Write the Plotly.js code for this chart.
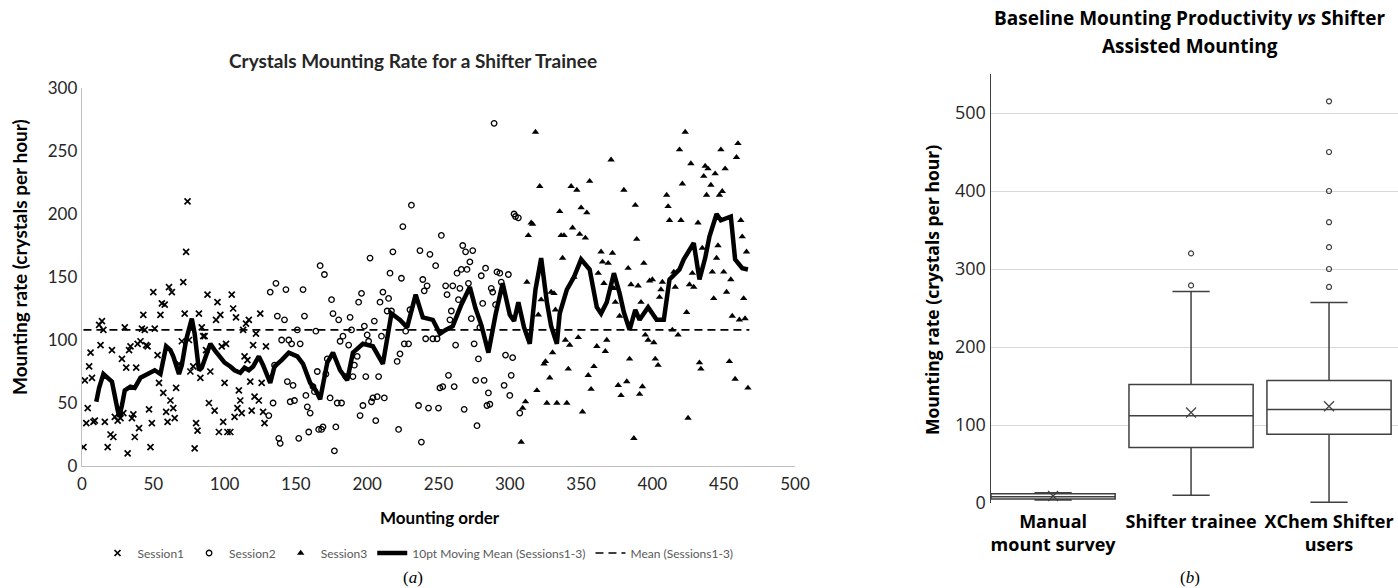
<!DOCTYPE html>
<html>
<head>
<meta charset="utf-8">
<script src="https://cdn.plot.ly/plotly-3.0.1.min.js"></script>
<style>html,body{margin:0;padding:0;background:#fff}#chart{width:1398px;height:588px}</style>
</head>
<body>
<div id="chart"></div>
<script>
// ---------- Panel (a): mounting rate per mounting order ----------
const session1X = [1,2,3,4,5,6,7,8,9,12,13,14,15,16,18,20,21,22,23,25,27,28,29,30,31,32,33,34,35,36,37,38,39,40,41,42,43,44,45,46,47,48,49,50,51,53,54,55,56,57,58,59,60,61,62,63,64,65,66,68,70,71,72,73,74,75,76,78,79,80,81,82,83,84,85,86,87,88,89,90,93,94,95,96,97,98,99,100,101,102,104,105,106,107,108,109,110,111,112,113,114,115,116,117,118,119,120,121,122,124,125,126,127,128,129];
const session1Y = [15,68,34,46,79,90,70,35,36,112,96,115,108,35,15,25,92,23,39,36,38,85,42,110,78,10,92,95,38,41,23,78,97,30,99,109,120,108,96,95,45,15,34,138,109,88,66,120,129,58,128,43,35,142,52,138,46,38,62,81,99,146,121,170,210,100,75,79,14,34,28,121,70,110,103,103,92,136,50,75,44,116,130,27,120,95,35,66,97,27,27,136,125,39,118,46,60,52,42,108,87,113,84,116,67,44,96,55,105,52,121,66,43,34,95];

const session2X = [131,132,134,135,136,137,138,139,140,142,143,144,145,146,147,148,149,151,152,153,155,156,157,158,159,160,162,163,164,165,166,167,168,169,170,171,172,174,175,176,177,178,179,180,181,182,183,185,187,188,189,190,191,193,194,195,196,197,198,199,200,201,202,203,204,205,206,207,208,209,210,211,212,214,215,216,217,218,221,222,223,224,225,226,227,229,230,231,236,237,238,239,240,241,242,243,244,246,248,249,250,251,252,253,255,256,257,258,259,260,261,262,263,264,265,266,267,268,269,270,271,272,273,274,275,276,277,278,279,280,281,282,283,284,285,286,287,288,289,290,291,293,294,296,297,299,300,301,302,303,304,306,307];
const session2Y = [40,138,50,80,145,119,22,18,100,116,140,67,100,51,97,64,52,108,22,97,140,119,56,47,27,42,63,59,107,75,29,159,29,31,152,73,85,54,132,121,12,31,50,116,99,50,103,71,96,118,108,71,80,87,130,40,137,48,111,71,104,99,165,51,54,115,36,55,71,130,103,138,54,123,133,153,123,170,83,29,89,149,190,97,107,97,124,207,48,171,19,148,139,101,143,46,168,101,159,101,46,62,183,63,143,136,72,116,123,143,63,96,153,132,141,156,175,45,170,156,145,162,117,171,97,68,32,85,110,151,129,68,157,48,58,49,141,138,272,128,154,153,146,64,88,152,56,72,86,200,198,197,42];

const session3X = [308,309,311,312,313,315,316,318,319,320,321,322,324,325,326,328,329,330,331,332,333,335,336,337,338,339,340,341,342,343,344,345,347,348,349,350,351,353,354,355,356,357,359,361,362,364,365,366,367,368,369,371,372,373,374,376,377,378,380,382,383,384,385,387,388,389,390,391,392,393,394,395,397,398,400,401,402,404,405,406,407,410,411,412,414,415,416,418,419,420,421,423,424,425,426,427,428,429,432,433,434,435,436,437,438,439,441,442,443,444,445,446,447,448,449,450,451,452,454,455,456,458,459,460,461,462,463,464,465,466,467];
const session3Y = [19,46,51,146,183,193,192,265,60,120,222,132,81,83,50,70,138,90,137,124,50,202,183,165,183,100,50,77,96,222,189,150,219,102,184,205,43,181,201,72,226,61,79,95,153,170,162,145,91,100,161,243,169,141,130,64,119,56,219,67,157,85,144,22,207,180,143,57,130,63,161,104,100,147,148,98,85,80,134,140,146,215,206,195,108,154,142,104,251,195,224,265,122,38,144,240,153,142,193,82,77,173,230,238,215,236,223,154,133,232,165,175,215,251,218,154,236,138,83,148,119,69,245,256,116,195,182,133,117,170,62];

// 10-point moving mean (Sessions 1-3)
const movingMeanX = [10,12,15,18,21,24,26,28,30,34,37,41,44,48,51,55,57,59,62,64,68,70,73,77,79,82,84,87,90,93,97,100,104,107,111,114,117,120,124,127,132,135,140,145,151,155,160,164,167,172,176,181,186,190,197,204,211,214,217,223,228,234,239,246,251,255,260,266,272,276,280,285,290,295,300,303,306,310,314,318,322,326,329,333,335,340,345,350,356,361,364,368,373,377,380,384,388,391,397,403,408,412,416,419,422,429,433,437,440,445,448,451,455,458,463,467];
const movingMeanY = [51,62,73,70,67,50,39,48,60,63,62,70,72,75,76,73,85,95,92,87,73,80,100,117,105,76,78,88,97,92,87,82,79,76,74,78,76,79,87,80,66,79,84,90,87,81,66,60,53,82,90,76,68,90,97,95,81,100,121,116,110,136,118,116,105,108,111,128,142,125,112,90,120,145,120,115,130,110,97,140,165,130,111,97,121,140,150,164,156,126,121,130,153,137,122,108,124,116,126,116,116,148,152,156,164,177,148,165,182,200,195,196,198,164,157,156];

// overall mean (Sessions 1-3)
const meanX = [1, 468];
const meanY = [108, 108];

// ---------- Panel (b): box plot summary ----------
const categories = ['Manual<br>mount survey', 'Shifter trainee', 'XChem Shifter<br>users'];
const boxLowerFence = [4, 10, 1];
const boxQ1 = [5, 71, 88];
const boxMedian = [8, 112, 120];
const boxQ3 = [12, 152, 157];
const boxUpperFence = [13, 271, 257];
const boxMean = [9, 116, 124];
const traineeOutliers = [279, 320];
const xchemOutliers = [277, 300, 328, 360, 400, 450, 515];

// ---------- layout helpers ----------
const W = 1398, H = 588;
const fx = p => p / W;
const fy = p => 1 - p / H;

const LFONT = 'Lato, "Liberation Sans", sans-serif';
const RFONT = '"Open Sans", "Noto Sans", sans-serif';
const SERIF = '"Liberation Serif", "DejaVu Serif", serif';

const traces = [
  {type:'scatter', mode:'markers', name:'Session1', x:session1X, y:session1Y, xaxis:'x', yaxis:'y',
   marker:{symbol:'x-thin-open', size:6, color:'#000', line:{color:'#000', width:1.7}}},
  {type:'scatter', mode:'markers', name:'Session2', x:session2X, y:session2Y, xaxis:'x', yaxis:'y',
   marker:{symbol:'circle-open', size:5.5, color:'#000', line:{color:'#000', width:1.3}}},
  {type:'scatter', mode:'markers', name:'Session3', x:session3X, y:session3Y, xaxis:'x', yaxis:'y',
   marker:{symbol:'triangle-up', size:6.5, color:'#000'}},
  {type:'scatter', mode:'lines', name:'10pt Moving Mean (Sessions1-3)', x:movingMeanX, y:movingMeanY, xaxis:'x', yaxis:'y',
   line:{color:'#000', width:4.5}},
  {type:'scatter', mode:'lines', name:'Mean (Sessions1-3)', x:meanX, y:meanY, xaxis:'x', yaxis:'y',
   line:{color:'#000', width:1.6, dash:'8px,5px'}},
  // panel b
  {type:'box', x:categories, q1:boxQ1, median:boxMedian, q3:boxQ3, lowerfence:boxLowerFence, upperfence:boxUpperFence,
   xaxis:'x2', yaxis:'y2', showlegend:false, width:0.9, whiskerwidth:0.3, fillcolor:'#fff',
   line:{color:'#404040', width:1.5}, hoverinfo:'skip'},
  {type:'scatter', mode:'markers', x:categories, y:boxMean, xaxis:'x2', yaxis:'y2', showlegend:false,
   marker:{symbol:'x-thin-open', size:10, color:'#404040', line:{color:'#404040', width:1.2}}},
  {type:'scatter', mode:'markers', x:traineeOutliers.map(() => categories[1]).concat(xchemOutliers.map(() => categories[2])),
   y:traineeOutliers.concat(xchemOutliers), xaxis:'x2', yaxis:'y2', showlegend:false,
   marker:{symbol:'circle-open', size:5, color:'#404040', line:{color:'#404040', width:1.2}}}
];

const layout = {
  width: W, height: H,
  margin:{l:0, r:0, t:0, b:0},
  paper_bgcolor:'#fff', plot_bgcolor:'rgba(0,0,0,0)',
  showlegend:true,
  legend:{orientation:'h', x:fx(418), xanchor:'center', y:fy(553), yanchor:'middle',
          font:{family:LFONT, size:12, color:'#595959'}, itemwidth:30, bgcolor:'rgba(0,0,0,0)'},
  xaxis:{domain:[fx(82), fx(795)], range:[0, 500], dtick:50, tick0:0, showgrid:false, zeroline:false,
         showline:true, linecolor:'#bfbfbf', linewidth:1.3, ticks:'', anchor:'y', ticklabelstandoff:2,
         tickfont:{family:LFONT, size:17, color:'#262626'}},
  yaxis:{domain:[fy(466), fy(88)], range:[0, 300], dtick:50, tick0:0, showgrid:false, zeroline:false,
         showline:true, linecolor:'#bfbfbf', linewidth:1.3, ticks:'', anchor:'x',
         tickfont:{family:LFONT, size:17, color:'#262626'}},
  xaxis2:{domain:[fx(991), 1], range:[-0.45, 2.5], type:'category', showgrid:false, zeroline:false,
          showline:false, ticks:'', anchor:'y2', ticklabelstandoff:6,
          tickfont:{family:RFONT, size:18, color:'#000', weight:'bold'}},
  yaxis2:{domain:[fy(503), fy(74)], range:[0, 550], tickvals:[0,100,200,300,400,500], showgrid:true,
          gridcolor:'#d9d9d9', gridwidth:1, zeroline:false, showline:true, linecolor:'#404040', linewidth:1.5,
          ticks:'', anchor:'x2', tickfont:{family:RFONT, size:18, color:'#262626'}},
  annotations:[
    {text:'<b>Crystals Mounting Rate for a Shifter Trainee</b>', xref:'paper', yref:'paper', x:fx(413), y:fy(60),
     xanchor:'center', yanchor:'middle', showarrow:false, font:{family:LFONT, size:19, color:'#262626'}},
    {text:'<b>Mounting rate (crystals per hour)</b>', xref:'paper', yref:'paper', x:fx(19), y:fy(257), textangle:-90,
     xanchor:'center', yanchor:'middle', showarrow:false, font:{family:LFONT, size:19, color:'#000'}},
    {text:'<b>Mounting order</b>', xref:'paper', yref:'paper', x:fx(440), y:fy(517),
     xanchor:'center', yanchor:'middle', showarrow:false, font:{family:LFONT, size:17, color:'#000'}},
    {text:'(<i>a</i>)', xref:'paper', yref:'paper', x:fx(413), y:fy(577),
     xanchor:'center', yanchor:'middle', showarrow:false, font:{family:SERIF, size:17, color:'#000'}},
    {text:'<b>Baseline Mounting Productivity <i>vs</i> Shifter</b>', xref:'paper', yref:'paper', x:fx(1190), y:fy(18),
     xanchor:'center', yanchor:'middle', showarrow:false, font:{family:RFONT, size:19, color:'#000'}},
    {text:'<b>Assisted Mounting</b>', xref:'paper', yref:'paper', x:fx(1190), y:fy(46),
     xanchor:'center', yanchor:'middle', showarrow:false, font:{family:RFONT, size:19, color:'#000'}},
    {text:'<b>Mounting rate (crystals per hour)</b>', xref:'paper', yref:'paper', x:fx(932), y:fy(290), textangle:-90,
     xanchor:'center', yanchor:'middle', showarrow:false, font:{family:RFONT, size:17.5, color:'#000'}},
    {text:'(<i>b</i>)', xref:'paper', yref:'paper', x:fx(1190), y:fy(577),
     xanchor:'center', yanchor:'middle', showarrow:false, font:{family:SERIF, size:17, color:'#000'}}
  ]
};

Plotly.newPlot('chart', traces, layout, {displayModeBar:false, staticPlot:true});
</script>
</body>
</html>
